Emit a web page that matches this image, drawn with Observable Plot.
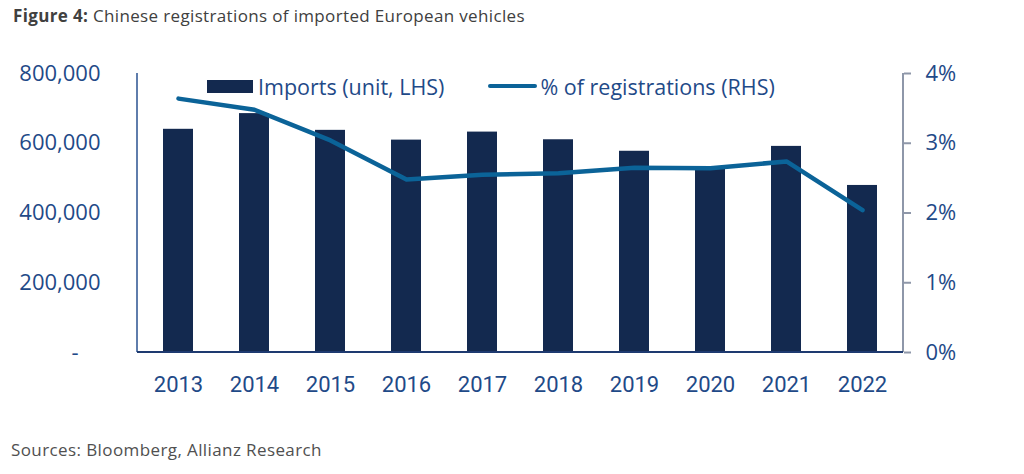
<!DOCTYPE html>
<html>
<head>
<meta charset="utf-8">
<script src="https://cdn.jsdelivr.net/npm/d3@7"></script>
<script src="https://cdn.jsdelivr.net/npm/@observablehq/plot@0.6"></script>
<style>
  html, body { margin: 0; padding: 0; background: #fff; }
  body { width: 1024px; height: 474px; position: relative; overflow: hidden; font-family: "Open Sans", sans-serif; }
  #title { position: absolute; left: 13px; top: 4px; font-size: 17px; letter-spacing: 0.35px; color: #404040; white-space: nowrap; }
  #title b { font-weight: 700; }
  #chart { position: absolute; left: 0; top: 34px; }
  #legend { position: absolute; left: 207px; top: 70px; height: 32px; display: flex; align-items: center;
            font-size: 21.5px; color: #1f4a88; white-space: nowrap; }
  .sw-bar { width: 46px; height: 13px; background: #13294f; margin-right: 5px; }
  .sw-line { width: 49px; height: 4.5px; border-radius: 3px; background: #0b6398; margin-left: 44px; margin-right: 3px; }
  #source { position: absolute; left: 11px; top: 438px; font-size: 17px; letter-spacing: 0.4px; color: #505050; white-space: nowrap; }
</style>
</head>
<body>
<div id="title"><b>Figure 4:</b> Chinese registrations of imported European vehicles</div>
<div id="chart"></div>
<div id="legend">
  <div class="sw-bar"></div><span>Imports (unit, LHS)</span>
  <div class="sw-line"></div><span>% of registrations (RHS)</span>
</div>
<div id="source">Sources: Bloomberg, Allianz Research</div>
<script>
// Chinese registrations of imported European vehicles, 2013–2022
const years = ["2013", "2014", "2015", "2016", "2017", "2018", "2019", "2020", "2021", "2022"];
const imports = [640000, 685000, 637000, 609000, 632000, 610000, 577000, 528000, 591000, 479000]; // units (LHS)
const regShare = [3.64, 3.48, 3.04, 2.48, 2.55, 2.57, 2.65, 2.64, 2.74, 2.04];                   // % of registrations (RHS)
const leftTicks = [0, 200000, 400000, 600000, 800000];
const rightTicks = [0, 1, 2, 3, 4];

// The right-hand axis shares the y scale: 4% lines up with 800,000 units
const shareToUnits = 800000 / 4;

const rows = years.map((year, i) => ({year, imports: imports[i], share: regShare[i]}));

const navy = "#13294f";
const lineBlue = "#0b6398";
const labelBlue = "#1f4a88";

// Left, bottom and right edges of the plotting frame
function frameEdges(index, scales, values, dims) {
  const {width, height, marginLeft, marginRight, marginTop, marginBottom} = dims;
  const l = marginLeft, r = width - marginRight, t = marginTop, b = height - marginBottom;
  const g = d3.create("svg:g");
  g.append("line").attr("x1", l).attr("x2", l).attr("y1", t).attr("y2", b)
    .attr("stroke", "#2a5290").attr("stroke-width", 1.5);
  g.append("line").attr("x1", r).attr("x2", r).attr("y1", t).attr("y2", b)
    .attr("stroke", "#8e97a9").attr("stroke-width", 2);
  g.append("line").attr("x1", l).attr("x2", r).attr("y1", b).attr("y2", b)
    .attr("stroke", "#1e3a70").attr("stroke-width", 2);
  return g.node();
}

const chart = Plot.plot({
  width: 1024,
  height: 390,
  marginLeft: 137,
  marginRight: 121,
  marginTop: 39,
  marginBottom: 72,
  style: {fontFamily: "'Open Sans', sans-serif", background: "transparent"},
  x: {type: "band", domain: years, paddingInner: 0.6, paddingOuter: 0.3},
  y: {domain: [0, 800000]},
  marks: [
    Plot.barY(rows, {x: "year", y: "imports", fill: navy}),
    frameEdges,
    Plot.lineY(rows, {
      x: "year",
      y: d => d.share * shareToUnits,
      stroke: lineBlue,
      strokeWidth: 4.5,
      strokeLinecap: "round",
      strokeLinejoin: "round"
    }),
    Plot.axisX({
      tickSize: 0, tickPadding: 24, fontSize: 22, color: labelBlue,
      fontFamily: "Roboto, sans-serif", label: null
    }),
    Plot.axisY(leftTicks, {
      anchor: "left", tickSize: 0, tickPadding: 37, fontSize: 22, color: labelBlue, label: null,
      tickFormat: d => d === 0 ? "-\u2002\u2002" : d3.format(",")(d)
    }),
    // right-hand ticks (grey) and their labels (blue)
    Plot.axisY(rightTicks.map(p => p * shareToUnits), {
      anchor: "right", tickSize: 7, tickPadding: 0, color: "#8e97a9", strokeWidth: 2, label: null,
      tickFormat: () => ""
    }),
    Plot.axisY(rightTicks.map(p => p * shareToUnits), {
      anchor: "right", tickSize: 0, tickPadding: 22, fontSize: 22, color: labelBlue, label: null,
      tickFormat: d => `${d / shareToUnits}%`
    })
  ]
});

document.getElementById("chart").append(chart);
</script>
</body>
</html>
